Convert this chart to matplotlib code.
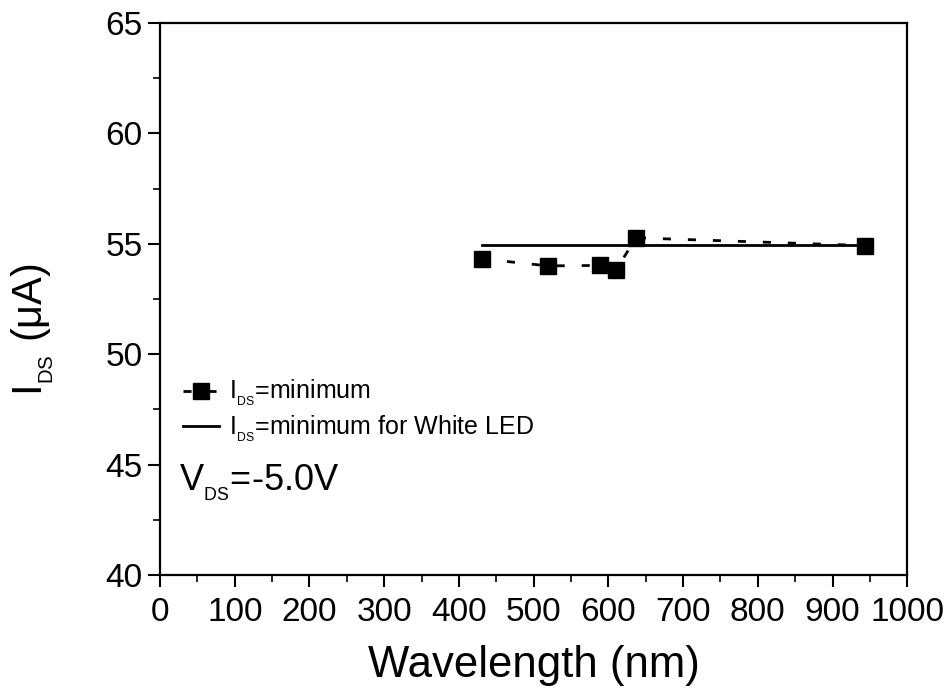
import matplotlib
matplotlib.use("Agg")
import matplotlib.pyplot as plt
from matplotlib.ticker import MultipleLocator

plt.rcParams['font.family'] = ['Liberation Sans', 'DejaVu Sans']
plt.rcParams['mathtext.fontset'] = 'custom'
plt.rcParams['mathtext.rm'] = 'Liberation Sans'
plt.rcParams['mathtext.it'] = 'Liberation Sans'
plt.rcParams['mathtext.default'] = 'regular'

# Measured minimum drain current per LED wavelength
wavelength_nm = [431, 519, 589, 610, 637, 943]
ids_min_uA = [54.32, 54.0, 54.02, 53.8, 55.27, 54.92]

# Minimum current under white LED illumination (spans the wavelength range)
white_x = [431, 943]
white_ids = [54.93, 54.93]

# Small, low-set subscript used in the labels
SUB_DS = r'$_{{}_{DS}}$'

fig = plt.figure(figsize=(9.47, 6.99), dpi=100)
ax = fig.add_axes([0.169, 0.1774, 0.789, 0.7897])

ax.plot(wavelength_nm, ids_min_uA, color='black', linestyle=(0, (2.9, 6.1)), lw=2,
        marker='s', markersize=11, label='I' + SUB_DS + '=minimum')
ax.plot(white_x, white_ids, color='black', lw=2,
        label='I' + SUB_DS + '=minimum for White LED')

ax.set_xlim(0, 1000)
ax.set_ylim(40, 65)
ax.xaxis.set_major_locator(MultipleLocator(100))
ax.xaxis.set_minor_locator(MultipleLocator(50))
ax.yaxis.set_major_locator(MultipleLocator(5))
ax.yaxis.set_minor_locator(MultipleLocator(2.5))
ax.tick_params(axis='x', which='major', pad=7)
ax.tick_params(axis='y', which='major', pad=4)
ax.tick_params(which='major', direction='out', length=8.5, width=1.5, labelsize=24)
ax.tick_params(which='minor', direction='out', length=5, width=1.2)
for s in ax.spines.values():
    s.set_linewidth(1.6)

ax.set_xlabel('Wavelength (nm)', fontsize=31.5)
ax.xaxis.set_label_coords(0.5, -0.126)
ax.set_ylabel('I' + SUB_DS + r' ($\mu$A)', fontsize=30)
ax.yaxis.set_label_coords(-0.139, 0.445)

leg = ax.legend(loc='upper left', bbox_to_anchor=(0.0, 0.397), frameon=False,
                fontsize=18, handlelength=1.45, handletextpad=0.4, labelspacing=0.2,
                borderaxespad=0.5)

ax.text(0.025, 0.152, 'V' + SUB_DS + '=-5.0V', transform=ax.transAxes, fontsize=26)

fig.savefig('out.png', dpi=100)
